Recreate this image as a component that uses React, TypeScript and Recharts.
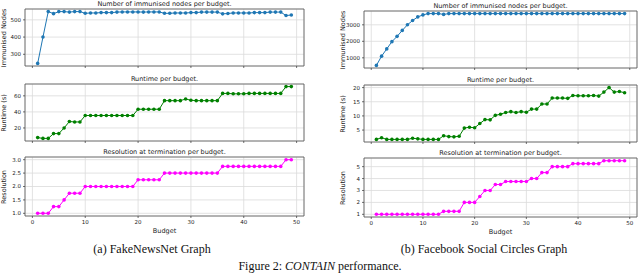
import React from 'react'
import { LineChart, Line, XAxis, YAxis, CartesianGrid, ReferenceArea } from 'recharts'

const budgets = [1, 2, 3, 4, 5, 6, 7, 8, 9, 10, 11, 12, 13, 14, 15, 16, 17, 18, 19, 20, 21, 22, 23, 24, 25,
    26, 27, 28, 29, 30, 31, 32, 33, 34, 35, 36, 37, 38, 39, 40, 41, 42, 43, 44, 45, 46, 47, 48, 49]
const xTicks = [0, 10, 20, 30, 40, 50]

// (a) FakeNewsNet
const fnImmunised = [247, 400, 548, 536, 548, 548, 545, 548, 548, 538, 540, 540, 542, 542, 542, 545, 546, 546,
    546, 546, 545, 546, 546, 546, 538, 538, 540, 540, 540, 542, 542, 545, 545, 545, 545, 535, 537, 540, 540, 540,
    540, 542, 542, 542, 545, 545, 545, 525, 528]
const fnRuntime = [8, 7, 7, 13, 13, 20, 28, 27.5, 27.5, 35.5, 35.5, 35.5, 35.5, 35.5, 35.5, 35.5, 35.5, 35.5,
    35.5, 43.3, 43.3, 43.3, 43.3, 43.3, 54, 54, 54, 54, 56, 54.5, 54, 54, 54, 54, 54, 63, 63, 62.5, 62.5, 62.5,
    63, 63, 63, 63, 63, 63, 63, 71.5, 71.5]
const fnResolution = [1, 1, 1, 1.25, 1.25, 1.5, 1.75, 1.75, 1.75, 2, 2, 2, 2, 2, 2, 2, 2, 2, 2, 2.25, 2.25,
    2.25, 2.25, 2.25, 2.5, 2.5, 2.5, 2.5, 2.5, 2.5, 2.5, 2.5, 2.5, 2.5, 2.5, 2.75, 2.75, 2.75, 2.75, 2.75, 2.75,
    2.75, 2.75, 2.75, 2.75, 2.75, 2.75, 3, 3]

// (b) Facebook Social Circles
const fbImmunised = [540, 1100, 1540, 1980, 2300, 2660, 3000, 3260, 3480, 3600, 3680, 3680, 3680, 3630, 3680,
    3680, 3680, 3680, 3680, 3680, 3680, 3680, 3680, 3680, 3680, 3680, 3680, 3680, 3680, 3680, 3680, 3680, 3680,
    3680, 3680, 3680, 3680, 3680, 3680, 3680, 3680, 3680, 3680, 3680, 3680, 3680, 3680, 3680, 3680]
const fbRuntime = [1.7, 2.3, 1.7, 1.7, 1.7, 1.7, 1.7, 2.1, 1.9, 1.7, 1.7, 1.7, 1.7, 3.0, 2.7, 2.6, 2.8, 5.7,
    6.0, 5.8, 7.3, 8.7, 8.6, 10.2, 10.6, 11.2, 11.5, 11.2, 11.5, 11.3, 12.4, 12.4, 14.2, 14.2, 16.3, 16.3, 16.3,
    16.2, 17.2, 17.1, 17.1, 17.1, 17.2, 17.0, 18.4, 20.0, 18.4, 18.6, 18.2]
const fbResolution = [1, 1, 1, 1, 1, 1, 1, 1, 1, 1, 1, 1, 1, 1.25, 1.25, 1.25, 1.25, 2, 2, 2, 2.5, 3, 3, 3.5,
    3.5, 3.75, 3.75, 3.75, 3.75, 3.75, 4, 4, 4.5, 4.5, 5, 5, 5, 5, 5.25, 5.25, 5.25, 5.25, 5.25, 5.25, 5.5, 5.5,
    5.5, 5.5, 5.5]

const titles = ['Number of immunised nodes per budget.', 'Runtime per budget.', 'Resolution at termination per budget.']
const yLabels = ['Immunised Nodes', 'Runtime (s)', 'Resolution']

const BLUE = '#1f77b4'
const GREEN = '#008000'
const MAGENTA = '#ff00ff'
const TEXT = '#222'
const SANS = '"DejaVu Sans", sans-serif'

const X_LO = -1.4
const X_HI = 51.4
const Y_AXIS_W = 26

type PlotProps = {
    left: number; top: number; width: number; height: number
    values: number[]; color: string; yTicks: number[]
    title: string; yLabel: string; bottom?: boolean
    fmt?: (v: number) => string
}

function Plot({ left, top, width, height, values, color, yTicks, title, yLabel, bottom, fmt }: PlotProps) {
    const data = budgets.map((b, i) => ({ b, v: values[i] }))
    const lo = Math.min(...values)
    const hi = Math.max(...values)
    const pad = (hi - lo) * 0.05
    const yDom = [lo - pad, hi + pad]
    const xAxisH = bottom ? 12 : 3
    const tickStyle = { fontSize: 5.5, fill: TEXT, fontFamily: SANS }
    const labelX = left - 21
    return (
        <>
            <div style={{
                position: 'absolute', left: left + width / 2 - 150, top: top - 9, width: 300,
                textAlign: 'center', fontFamily: SANS, fontSize: 6.5, color: TEXT, lineHeight: '8px'
            }}>{title}</div>
            <div style={{
                position: 'absolute', left: labelX - 40, top: top + height / 2 - 4, width: 80,
                height: 8, textAlign: 'center', fontFamily: SANS, fontSize: 6.5, color: TEXT, lineHeight: '8px',
                transform: 'rotate(-90deg)', whiteSpace: 'nowrap'
            }}>{yLabel}</div>
            <div style={{ position: 'absolute', left: left - Y_AXIS_W, top: top - 2 }}>
                <LineChart width={Y_AXIS_W + width + 3} height={height + xAxisH + 2} data={data}
                    margin={{ top: 2, right: 3, left: 0, bottom: 0 }}>
                    <CartesianGrid stroke="#dadada" strokeWidth={0.8} />
                    <XAxis dataKey="b" type="number" domain={[X_LO, X_HI]} ticks={xTicks} allowDataOverflow
                        height={xAxisH} tickSize={2} axisLine={false} tickLine={{ stroke: '#333', strokeWidth: 0.7 }}
                        tick={tickStyle} tickFormatter={bottom ? undefined : () => ''} interval={0} />
                    <YAxis type="number" domain={yDom} ticks={yTicks} allowDataOverflow width={Y_AXIS_W}
                        tickSize={2} axisLine={false} tickLine={{ stroke: '#333', strokeWidth: 0.7 }}
                        tick={tickStyle} tickFormatter={fmt} interval={0} />
                    <ReferenceArea x1={X_LO} x2={X_HI} y1={yDom[0]} y2={yDom[1]} fill="none" fillOpacity={0}
                        stroke="#555" strokeWidth={0.8} />
                    <Line type="linear" dataKey="v" stroke={color} strokeWidth={1} isAnimationActive={false}
                        dot={{ r: 1.8, fill: color, stroke: 'none' }} />
                </LineChart>
            </div>
            {bottom && (
                <div style={{
                    position: 'absolute', left: left + width / 2 - 50, top: top + height + 11, width: 100,
                    textAlign: 'center', fontFamily: SANS, fontSize: 6.5, color: TEXT, lineHeight: '8px'
                }}>Budget</div>
            )}
        </>
    )
}

const caption = { position: 'absolute' as const, fontFamily: '"Liberation Serif", serif', fontSize: 12, color: '#111', textAlign: 'center' as const, width: 300, lineHeight: '14px' }

export default function App() {
    const L = { left: 25, width: 279 }
    const R = { left: 364, width: 273 }
    return (
        <div style={{ position: 'absolute', left: 0, top: 0, width: 640, height: 274, overflow: 'hidden', background: '#fff' }}>
            <Plot {...L} top={9} height={57} values={fnImmunised} color={BLUE} yTicks={[300, 400, 500]}
                title={titles[0]} yLabel={yLabels[0]} />
            <Plot {...L} top={84} height={57} values={fnRuntime} color={GREEN} yTicks={[20, 40, 60]}
                title={titles[1]} yLabel={yLabels[1]} />
            <Plot {...L} top={157} height={59} values={fnResolution} color={MAGENTA} yTicks={[1, 1.5, 2, 2.5, 3]}
                title={titles[2]} yLabel={yLabels[2]} bottom fmt={(v) => v.toFixed(1)} />

            <Plot {...R} top={11} height={57} values={fbImmunised} color={BLUE} yTicks={[1000, 2000, 3000]}
                title={titles[0]} yLabel={yLabels[0]} />
            <Plot {...R} top={85} height={57} values={fbRuntime} color={GREEN} yTicks={[5, 10, 15, 20]}
                title={titles[1]} yLabel={yLabels[1]} />
            <Plot {...R} top={158} height={59} values={fbResolution} color={MAGENTA} yTicks={[1, 2, 3, 4, 5]}
                title={titles[2]} yLabel={yLabels[2]} bottom />

            <div style={{ ...caption, left: 152 - 150, top: 242 }}>(a) FakeNewsNet Graph</div>
            <div style={{ ...caption, left: 484 - 150, top: 242 }}>(b) Facebook Social Circles Graph</div>
            <div style={{ ...caption, left: 320 - 150, top: 259 }}>
                Figure 2: <i>CONTAIN</i> performance.
            </div>
        </div>
    )
}
